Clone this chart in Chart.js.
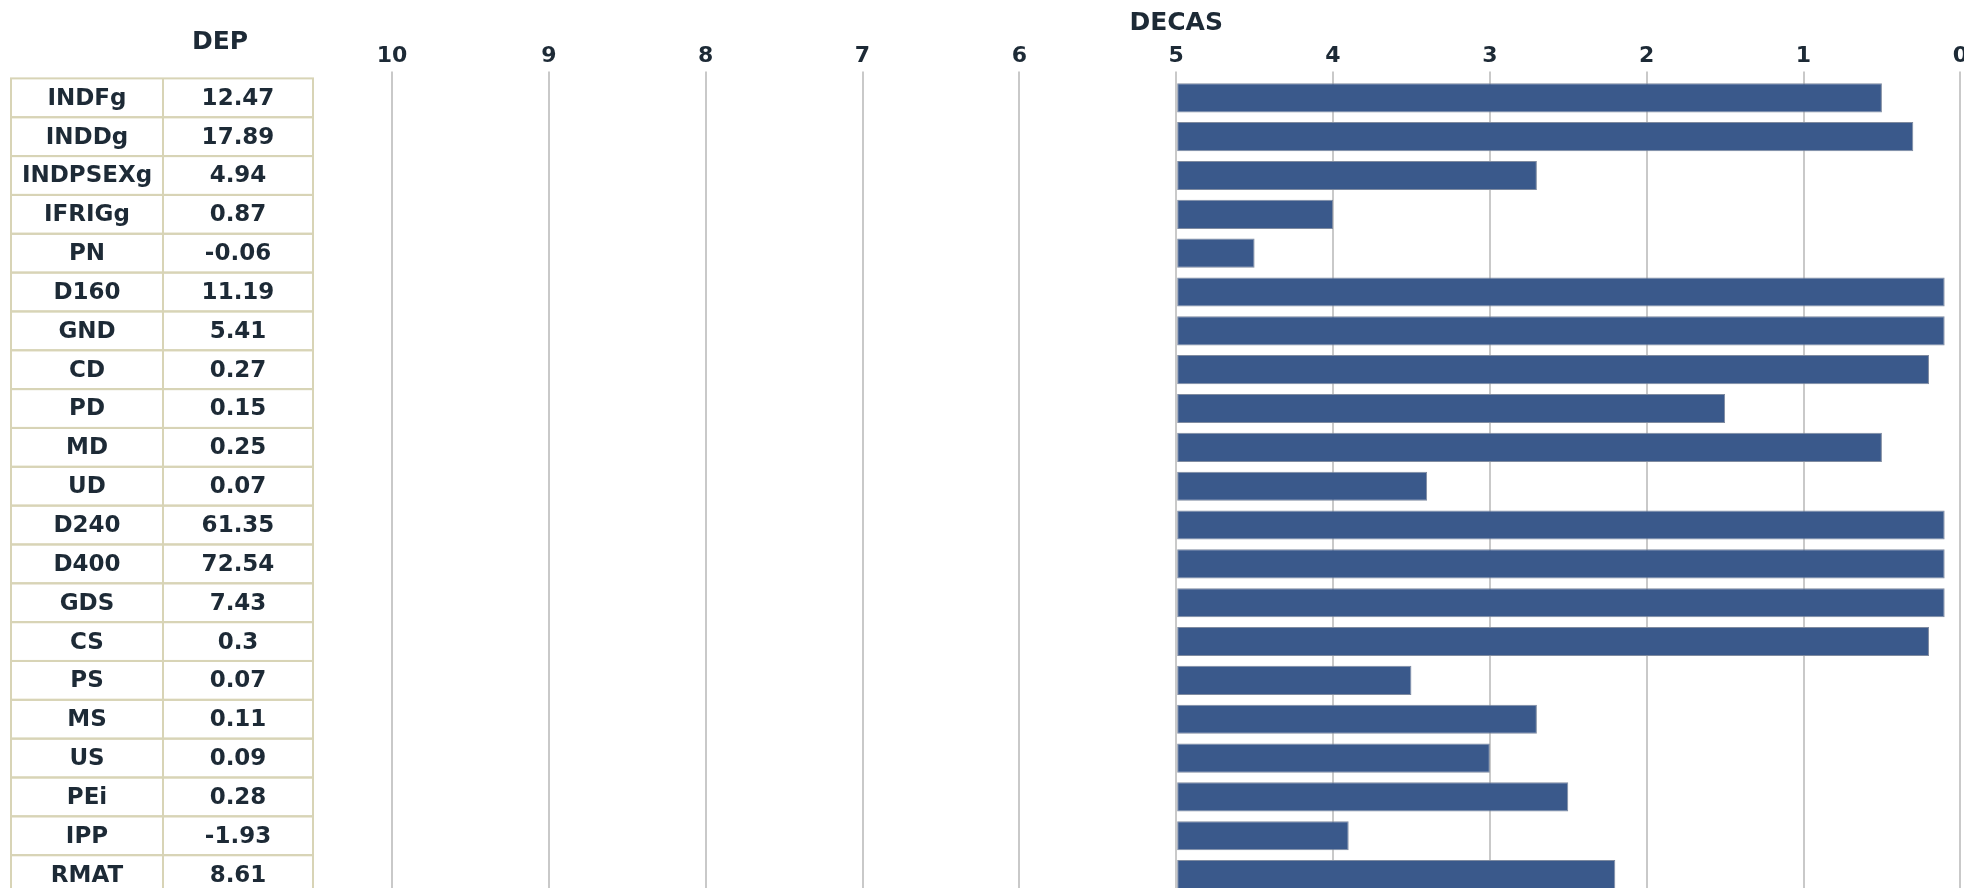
<!DOCTYPE html>
<html>
<head>
<meta charset="utf-8">
<script src="https://cdn.jsdelivr.net/npm/chart.js@4"></script>
<style>
  html, body { margin: 0; padding: 0; background: #fff; overflow: hidden; }
  #wrap { position: relative; width: 1970px; height: 900px; }
</style>
</head>
<body>
<div id="wrap"><canvas id="chart" width="1970" height="900"></canvas></div>
<script>
const categories = ["INDFg", "INDDg", "INDPSEXg", "IFRIGg", "PN", "D160", "GND", "CD", "PD", "MD", "UD",
    "D240", "D400", "GDS", "CS", "PS", "MS", "US", "PEi", "IPP", "RMAT"];
const depValues = [12.47, 17.89, 4.94, 0.87, -0.06, 11.19, 5.41, 0.27, 0.15, 0.25, 0.07,
    61.35, 72.54, 7.43, 0.3, 0.07, 0.11, 0.09, 0.28, -1.93, 8.61];
// where each bar ends on the DECAS axis (bars start at 5)
const decasEnd = [0.5, 0.3, 2.7, 4.0, 4.5, 0.1, 0.1, 0.2, 1.5, 0.5, 3.4,
    0.1, 0.1, 0.1, 0.2, 3.5, 2.7, 3.0, 2.5, 3.9, 2.2];
const barStart = 5;
const xTickValues = [10, 9, 8, 7, 6, 5, 4, 3, 2, 1, 0];

const textColor = "#1d2a36";
const fontFamily = "'DejaVu Sans', sans-serif";

// draws the DEP table to the left of the plot, one row per category
const depTable = {
    id: "depTable",
    afterDraw(chart) {
        const ctx = chart.ctx;
        const yScale = chart.scales.y;
        const step = yScale.getPixelForValue(1) - yScale.getPixelForValue(0);
        const x0 = 11, x1 = 163, x2 = 313;

        ctx.save();
        ctx.fillStyle = textColor;
        ctx.textAlign = "center";
        ctx.textBaseline = "middle";
        ctx.font = "bold 25px " + fontFamily;
        ctx.fillText("DEP", 220, 42);

        ctx.strokeStyle = "#d8d4b6";
        ctx.lineWidth = 2;
        ctx.font = "bold 23px " + fontFamily;
        categories.forEach((name, i) => {
            const cy = yScale.getPixelForValue(i);
            const top = cy - step / 2;
            ctx.strokeRect(x0, top, x2 - x0, step);
            ctx.beginPath();
            ctx.moveTo(x1, top);
            ctx.lineTo(x1, top + step);
            ctx.stroke();
            ctx.fillText(name, (x0 + x1) / 2, cy + 1);
            ctx.fillText(String(depValues[i]), (x1 + x2) / 2, cy + 1);
        });
        ctx.restore();
    }
};

const ctx = document.getElementById("chart").getContext("2d");

const chart = new Chart(ctx, {
    type: "bar",
    data: {
        labels: categories,
        datasets: [{
            label: "DECAS",
            data: decasEnd,
            base: barStart,
            backgroundColor: "#3a598b",
            borderColor: "#7f8ba0",
            borderWidth: 1,
            borderSkipped: false,
            categoryPercentage: 1,
            barPercentage: 0.75
        }]
    },
    options: {
        indexAxis: "y",
        responsive: false,
        animation: false,
        layout: { padding: { left: 392, right: 0, top: 0, bottom: 6 } },
        plugins: {
            legend: { display: false },
            tooltip: { enabled: false }
        },
        scales: {
            x: {
                position: "top",
                reverse: true,
                min: 0,
                max: 10,
                afterBuildTicks: (scale) => {
                    scale.ticks = xTickValues.map(v => ({ value: v }));
                },
                ticks: {
                    color: textColor,
                    font: { family: fontFamily, size: 22, weight: "bold" },
                    padding: 2
                },
                grid: {
                    color: "#c9c9c9",
                    lineWidth: 2,
                    tickLength: 7,
                    tickColor: "#c9c9c9"
                },
                border: { display: false },
                title: {
                    display: true,
                    text: "DECAS",
                    color: textColor,
                    font: { family: fontFamily, size: 25, weight: "bold" },
                    padding: { top: 8, bottom: 3 }
                }
            },
            y: {
                display: false
            }
        }
    },
    plugins: [depTable]
});
</script>
</body>
</html>
